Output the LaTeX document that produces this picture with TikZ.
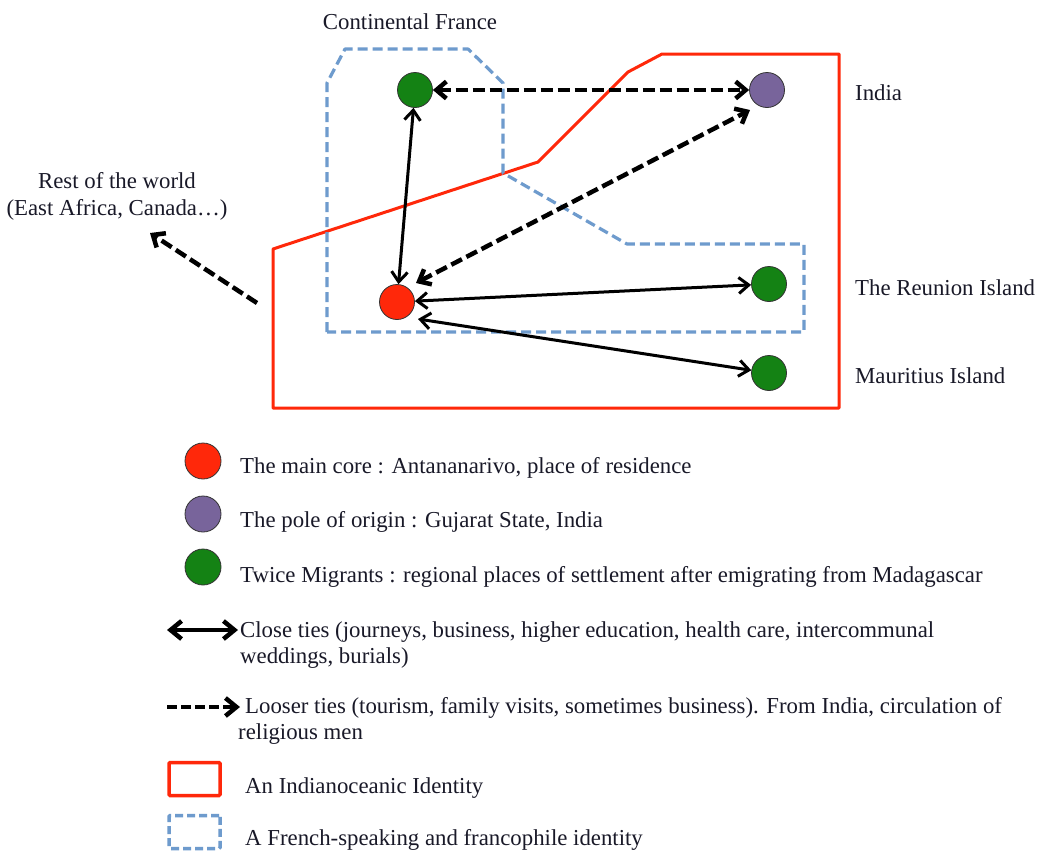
\documentclass[tikz,border=0pt]{standalone}
\usepackage{fontspec}
\setmainfont{Liberation Serif}
\usetikzlibrary{arrows.meta,calc}
\definecolor{redc}{RGB}{255,40,10}
\definecolor{bluec}{RGB}{110,155,205}
\definecolor{greenc}{RGB}{20,130,20}
\definecolor{purplec}{RGB}{120,100,155}
\definecolor{txt}{RGB}{25,25,40}
\begin{document}
\begin{tikzpicture}[x=1pt,y=-1pt,
  place/.style={circle, draw=black!80, line width=0.8pt, minimum size=35pt, inner sep=0pt},
  legplace/.style={place, minimum size=36pt},
  lbl/.style={font=\fontsize{22.8}{26}\selectfont, text=txt, inner sep=0pt},
  tie/.style={line width=3pt, {Straight Barb[length=10pt,width=16pt]}-{Straight Barb[length=10pt,width=16pt]}},
  loose/.style={line width=4.5pt, dash pattern=on 12pt off 5pt, {Straight Barb[length=10pt,width=17pt]}-{Straight Barb[length=10pt,width=17pt]}},
  looseone/.style={line width=4.5pt, dash pattern=on 12pt off 5pt, -{Straight Barb[length=10pt,width=17pt]}},
  legtie/.style={line width=4.5pt, {Straight Barb[length=11pt,width=18pt]}-{Straight Barb[length=11pt,width=18pt]}},
  legloose/.style={line width=4.5pt, dash pattern=on 10pt off 4pt, -{Straight Barb[length=11pt,width=18pt]}},
  redzone/.style={draw=redc, line width=3pt, line join=round},
  bluezone/.style={draw=bluec, line width=3.2pt, dash pattern=on 10pt off 5pt, line join=round},
]
\useasboundingbox (0,0) rectangle (1038,852);
\fill[white] (0,0) rectangle (1038,852);

% zones
\draw[redzone] (273,408) -- (273,249) -- (538,162) -- (628,72) -- (662,54) -- (839,54) -- (839,408) -- cycle;
\draw[bluezone] (327,332) -- (327,83) -- (345,49) -- (468,49) -- (503,83) -- (503,173) -- (627,244) -- (804,244) -- (804,332) -- cycle;

% places
\node[place, fill=greenc] (fr) at (415,90) {};
\node[place, fill=purplec] (in) at (767,90) {};
\node[place, fill=redc] (ant) at (397,302) {};
\node[place, fill=greenc] (re) at (769,284) {};
\node[place, fill=greenc] (mu) at (769,373) {};

% labels
\node[lbl, anchor=base] (cf) at (410,29) {Continental France};
\node[lbl, anchor=base west] (inl) at (855,100) {India};
\node[lbl, anchor=base west] (rel) at (855,295) {The Reunion Island};
\node[lbl, anchor=base west] (mul) at (855,383) {Mauritius Island};
\node[lbl, anchor=base] (rw1) at (117,188) {Rest of the world};
\node[lbl, anchor=base] (rw2) at (117,215) {(East Africa, Canada…)};

% connectors
\draw[loose] (fr) -- (in);
\draw[tie] (ant) -- (fr);
\draw[loose] ($(ant)+(19,-19)$) -- ($(in)+(-17,20)$);
\draw[tie] (ant) -- (re);
\draw[tie] ($(ant)+(21,17)$) -- (mu);
\coordinate (rwtail) at (257,303);
\coordinate (rwtip) at (150,233);
\draw[looseone] (rwtail) -- (rwtip);

% legend
\node[legplace, fill=redc] (l1) at (203,461) {};
\node[legplace, fill=purplec] (l2) at (203,514) {};
\node[legplace, fill=greenc] (l3) at (203,567) {};
\node[lbl, anchor=base west] (t1) at (240,473) {The main core : Antananarivo, place of residence};
\node[lbl, anchor=base west] (t2) at (240,527) {The pole of origin : Gujarat State, India};
\node[lbl, anchor=base west] (t3) at (240,582) {Twice Migrants : regional places of settlement after emigrating from Madagascar};

\coordinate (a1s) at (167,630);
\coordinate (a1e) at (238,630);
\draw[legtie] (a1s) -- (a1e);
\node[lbl, anchor=base west] (t4) at (240,637) {Close ties (journeys, business, higher education, health care, intercommunal};
\node[lbl, anchor=base west] (t4b) at (240,663) {weddings, burials)};

\coordinate (a2s) at (167,707);
\coordinate (a2e) at (240,707);
\draw[legloose] (a2s) -- (a2e);
\node[lbl, anchor=base west] (t5) at (245,713) {Looser ties (tourism, family visits, sometimes business). From India, circulation of};
\node[lbl, anchor=base west] (t5b) at (238,739) {religious men};

\node[draw=redc, line width=3.5pt, minimum width=51pt, minimum height=33pt, inner sep=0pt, rounded corners=1pt] (k1) at (194.5,779) {};
\node[lbl, anchor=base west] (t6) at (245,793) {An Indianoceanic Identity};
\node[draw=bluec, line width=3.5pt, dash pattern=on 8pt off 4pt, minimum width=51pt, minimum height=33pt, inner sep=0pt, rounded corners=1pt] (k2) at (194.5,832) {};
\node[lbl, anchor=base west] (t7) at (245,845) {A French-speaking and francophile identity};
\end{tikzpicture}
\end{document}
